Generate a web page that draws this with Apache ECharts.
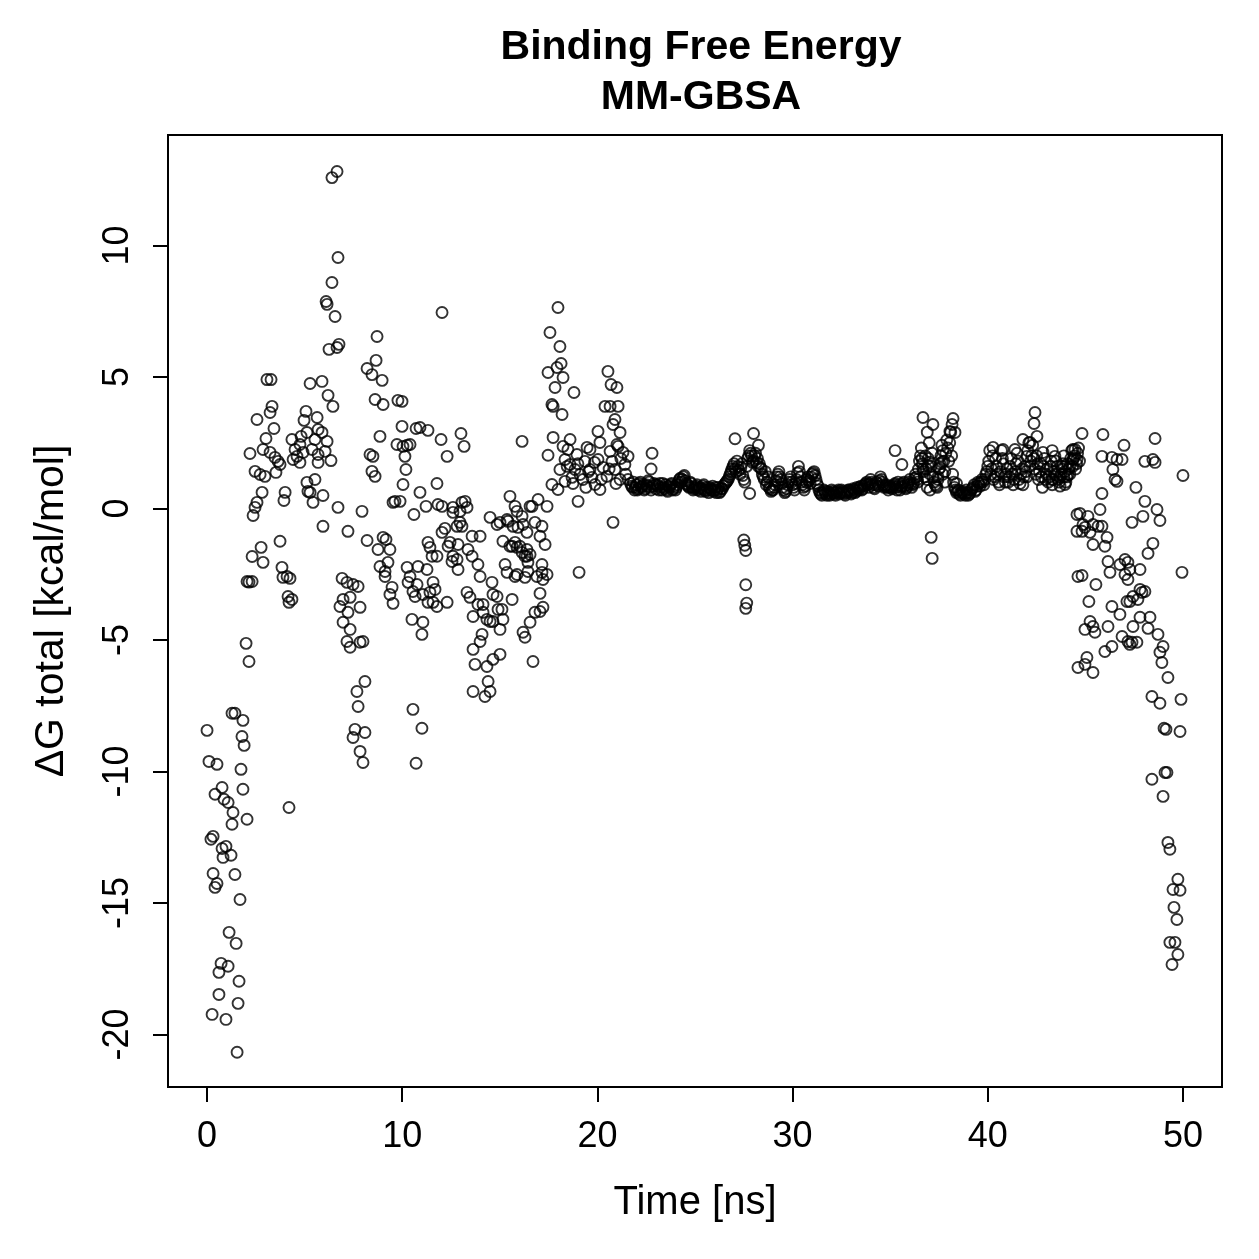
<!DOCTYPE html>
<html>
<head>
    <meta charset="utf-8">
    <title>Binding Free Energy</title>
    <script src="https://cdn.jsdelivr.net/npm/echarts@6/dist/echarts.min.js"></script>
</head>
<body style="margin:0;background:#fff">
    <div id="main" style="width:1259px;height:1259px;"></div>
    <script type="text/javascript">
        // tick positions
        var xTicks = [0, 10, 20, 30, 40, 50];
        var yTicks = [-20, -15, -10, -5, 0, 5, 10];

        // [time ns, dG kcal/mol]
        var phaseStart = [[0.0,-8.44],[0.1,-9.62],[0.51,-9.73],[0.41,-10.87],[0.77,-10.61],[0.87,-11.06],[1.08,-11.18],[1.33,-11.56],[0.2,-12.58],[0.31,-12.47],[0.77,-12.93],[0.97,-12.85],[0.82,-13.27],[1.23,-13.19],[1.28,-12.01],[1.43,-13.92],[0.31,-13.88],[0.51,-14.26],[0.41,-14.41],[1.13,-16.12],[1.49,-16.54],[1.69,-14.87],[0.72,-17.3],[1.08,-17.41],[0.61,-17.64],[1.64,-17.98],[0.61,-18.48],[1.59,-18.82],[0.26,-19.24],[0.97,-19.43],[1.54,-20.68],[1.28,-7.79],[1.43,-7.79],[1.84,-8.06],[1.79,-8.67],[1.9,-9.01],[1.74,-9.92],[1.84,-10.68],[2.05,-11.82],[2.0,-5.13],[2.15,-5.82],
            [2.2,2.09],[2.46,1.41],[2.72,1.29],[2.97,1.22],[2.87,2.24],[3.23,2.13],[3.48,1.94],[3.64,1.79],[3.53,1.37],[3.74,1.67],[2.82,0.61],[2.56,0.23],[2.46,0.04],[2.36,-0.27],[2.77,-1.48],[2.31,-1.83],[2.87,-2.05],[2.05,-2.78],[2.31,-2.78],[2.15,-2.8],[2.56,3.38],[3.02,2.66],[3.43,3.04],[3.23,3.65],[3.33,3.88],[3.07,4.9],[3.28,4.9],[4.0,0.61],[3.94,0.3],[3.84,-2.24],[3.89,-2.62],[4.25,-2.66],[4.1,-2.59],[4.15,-3.35],[4.2,-3.57],[4.35,-3.46],[3.74,-1.25],[4.2,-11.37]];

        var phaseRise = [[4.35,2.62],[4.82,2.74],[5.12,2.89],[4.51,2.24],[4.61,1.98],[4.92,2.13],[4.76,1.75],[4.41,1.86],[5.28,4.75],[5.89,4.83],[5.07,3.69],[4.97,3.35],[5.64,3.46],[5.69,3.0],[5.89,2.89],[6.15,2.55],[5.53,2.62],[5.69,2.05],[5.69,1.75],[6.35,1.82],[6.2,4.3],[6.45,3.88],[5.12,0.99],[5.53,1.1],[5.28,0.61],[5.43,0.23],[5.94,0.49],[5.17,0.65],[6.71,0.04],[5.94,-0.68],[4.76,2.43],[5.38,2.24],[6.05,2.17],
            [6.66,12.81],[6.4,12.58],[6.71,9.54],[6.4,8.59],[6.1,7.87],[6.15,7.76],[6.56,7.3],[6.25,6.05],[6.66,6.12],[6.76,6.24],[8.71,6.54],[8.66,5.63],[8.2,5.32],[8.45,5.09],[8.97,4.87],[8.61,4.14],[9.02,3.95],[9.78,4.11],[8.35,2.05],[8.45,1.41],[8.61,1.22],[8.5,1.98],[8.86,2.74],[7.94,-0.11],[7.22,-0.87],[8.2,-1.22],[9.02,-1.1],[9.17,-1.18],[8.76,-1.56],[9.37,-1.56],[9.27,-2.05],[8.86,-2.21],[9.12,-2.4],[9.12,-2.59],[9.48,-3.0],[9.37,-3.27],[9.53,-3.61],[6.92,-2.66],[7.17,-2.81],[7.48,-2.89],[7.74,-2.97],[6.97,-3.46],[7.33,-3.38],[6.81,-3.73],[7.22,-3.95],[7.84,-3.76],[6.97,-4.33],[7.33,-4.6],[7.17,-5.06],[7.33,-5.28],[7.84,-5.09],[7.99,-5.06],[8.09,-6.58],[7.68,-6.96],[7.74,-7.53],[7.58,-8.4],[8.09,-8.52],[7.48,-8.71],[7.84,-9.24],[7.99,-9.66],[9.63,0.27],[9.53,0.23],[9.73,2.43],[10.04,2.36],[10.25,2.4],[9.99,3.12],[10.71,3.04],[10.19,1.48],[10.04,0.91]];

        var phaseMid = [[9.99,4.07],[10.91,3.08],[11.32,2.97],[10.4,2.43],[10.14,1.98],[11.99,2.62],[12.3,1.98],[13.01,2.85],[13.17,2.36],[12.04,7.45],[11.78,0.95],[10.91,0.61],[9.89,0.27],[11.22,0.08],[10.6,-0.23],[11.83,0.15],[12.04,0.08],[12.6,0.04],[13.06,0.23],[13.22,0.27],[13.32,0.04],[12.96,-0.11],[12.6,-0.15],[10.25,-2.24],[10.81,-2.21],[11.27,-2.32],[10.4,-2.59],[10.3,-2.81],[10.76,-2.89],[10.55,-3.16],[10.66,-3.35],[11.06,-3.27],[11.42,-3.19],[11.32,-3.57],[11.58,-3.57],[11.58,-2.81],[11.32,-1.29],[11.53,-1.82],[11.42,-1.48],[11.78,-1.82],[11.68,-3.08],[11.78,-3.73],[12.3,-3.57],[10.5,-4.22],[11.06,-4.33],[11.01,-4.79],[10.55,-7.64],[11.01,-8.36],[10.71,-9.69],[12.96,-0.53],[13.06,-0.68],[12.81,-0.68],[12.19,-0.76],[12.04,-0.91],[13.58,-1.06],[13.99,-1.06],[12.45,-1.29],[12.86,-1.37],[12.35,-1.44],[12.6,-1.82],[12.55,-2.02],[12.81,-1.94],[12.86,-2.32],[13.37,-1.56],[13.58,-1.82],[13.88,-2.13],[13.99,-2.59],[14.6,-2.81],
            [13.32,-3.19],[13.47,-3.38],[13.88,-3.65],[14.14,-3.65],[14.65,-3.27],[14.86,-3.35],[15.63,-3.46],[13.63,-4.11],[14.14,-3.95],[14.34,-4.22],[14.5,-4.3],[14.65,-4.3],[14.91,-3.84],[15.11,-3.84],[15.16,-4.22],[15.01,-4.6],[14.09,-4.79],[13.99,-5.06],[13.63,-5.36],[13.73,-5.93],[14.34,-6.01],[14.65,-5.74],[15.01,-5.55],[14.4,-6.58],[13.63,-6.96],[14.5,-6.96],[14.24,-7.15],[16.19,-4.71],[16.29,-4.9],[15.27,-2.13],[15.37,-2.43],[15.88,-2.51],[16.29,-2.62],[14.5,-0.34],[14.86,-0.61],[15.37,-0.42],[15.68,-0.68],[15.93,-0.72],[16.19,-0.61],[15.52,0.46],[15.78,0.08],[15.88,-0.11],[16.14,-0.3],[16.55,0.08],[15.16,-1.25],[15.52,-1.44],[15.78,-1.29],[16.03,-1.44],[16.39,-1.56],[16.29,-1.82],[15.78,-2.59],[16.44,-2.4],[16.14,2.55],[16.65,0.08],[16.96,0.34],[17.42,0.08],[16.8,-0.53],[17.16,-0.68],[17.06,-1.06],[15.01,-0.53],[15.42,-0.49],[16.39,-0.91],[15.63,-1.44],[15.88,-1.48],[16.14,-1.67],[16.39,-1.82],[16.55,-1.75],[16.44,-2.05],[17.32,-1.37],[16.9,-2.59],[17.16,-2.43],[17.21,-2.7],[17.42,-2.51],[17.16,-2.13],[17.06,-3.23],[16.8,-3.95],[17.06,-3.92],[17.21,-3.76],[16.55,-4.33],[16.7,-5.82],[19.06,-2.43]];

        var phaseJump = [[17.98,7.64],[17.57,6.69],[18.08,6.16],[18.14,5.51],[17.93,5.36],[17.47,5.17],[18.24,4.98],[17.83,4.6],[18.8,4.41],[17.67,3.95],[17.73,3.88],[18.19,3.57],[17.73,2.7],[18.6,2.62],[17.47,2.02],[18.24,2.36],[18.49,2.24],[19.47,2.32],[20.13,2.51],[21.0,2.43],[21.31,2.13],[21.57,1.98],[17.67,0.91],[17.98,0.72],[19.01,0.27],[20.54,5.21],[20.7,4.71],[21.0,4.6],[20.39,3.88],[20.65,3.88],[21.06,3.88],[20.9,3.38],[20.8,3.19],[21.16,2.89],[20.03,2.93],[19.62,2.24],[21.06,2.36],[20.8,-0.53],[18.34,1.86],[18.6,1.67],[18.85,1.48],[18.7,1.18],[19.11,1.29],[19.36,1.79],[19.26,1.1],[19.62,1.48],[19.88,0.91],[20.03,1.86],[20.29,1.56],[20.49,1.22],[20.75,1.79],[20.9,1.48],[21.16,1.1],[21.41,1.67],[21.57,1.1],[18.08,1.48],[18.34,1.03],[19.72,1.18],[20.13,0.72],[20.65,2.17],[18.95,2.05],[19.41,0.8],[18.45,1.6],[19.0,1.7],[19.55,1.4],[20.2,1.1],[20.6,1.5],[21.2,1.9],[21.45,1.3],[18.75,0.95],[19.85,1.75],[20.95,0.95]];

        var plateau = [[21.7,0.95],[21.8,0.8],[21.9,0.7],[22.0,0.9],[22.1,0.75],[22.2,1.0],[22.3,0.85],[22.4,0.7],[22.5,0.9],[22.6,1.05],[22.7,0.8],[22.8,2.1],[22.75,1.5],[22.9,0.95],[23.0,0.75],[23.1,0.85],[23.2,0.95],[23.3,0.7],[23.4,0.8],[23.5,0.9],[23.6,0.65],[23.7,0.8],[23.8,0.95],[23.9,0.75],
            [24.0,0.7],[24.1,0.9],[24.2,1.1],[24.3,1.0],[24.4,1.2],[24.5,1.05],[24.6,0.9],[24.7,0.8],[24.8,0.95],[24.9,0.7],[25.0,0.8],[25.1,0.9],[25.2,0.75],[25.3,0.65],[25.4,0.85],[25.5,0.7],[25.6,0.8],[25.7,0.6],[25.8,0.75],[25.9,0.85],
            [26.0,0.7],[26.1,0.6],[26.2,0.8],[26.3,0.65],[26.4,0.75],[26.5,0.9],[26.6,1.0],[26.7,1.1],[26.8,1.3],[26.9,1.5],[27.0,1.7],[27.05,2.65],[27.1,1.4],[27.2,1.6],[27.3,1.3],[27.4,1.7],[27.5,1.1],[27.8,0.57],[27.7,1.9],[27.8,2.2],[27.9,2.0],
            [28.0,1.8],[28.0,2.85],[28.1,2.1],[28.2,1.9],[28.25,2.4],[28.3,1.7],[28.4,1.5],[28.5,1.2],[28.6,1.4],[28.7,1.0],[28.8,0.8],[28.9,0.65],[29.0,0.7],[29.1,0.9],[29.2,1.2],[29.3,1.4],[29.4,1.1],[29.5,0.8],[29.6,0.6],[29.7,0.75],[29.8,1.0],[29.9,1.2],
            [27.5,-1.2],[27.55,-1.4],[27.6,-1.6],[27.6,-2.9],[27.65,-3.6],[27.6,-3.8],
            [30.0,0.9],[30.1,0.7],[30.2,1.1],[30.3,1.6],[30.4,1.2],[30.5,0.9],[30.6,0.7],[30.7,1.0],[30.8,1.2],[30.9,0.95],[31.0,1.3],[31.1,1.4],[31.2,1.1],[31.3,0.85],[31.4,0.6],[31.5,0.5],[31.6,0.7],[31.7,0.55],[31.8,0.65],[31.9,0.5],
            [32.0,0.7],[32.1,0.6],[32.2,0.5],[32.3,0.65],[32.4,0.55],[32.5,0.7],[32.6,0.6],[32.7,0.5],[32.8,0.65],[32.9,0.7],[33.0,0.55],[33.1,0.75],[33.2,0.6],[33.3,0.8],[33.4,0.7],[33.5,0.85],[33.6,0.75],[33.7,0.9],[33.8,1.0],[33.9,0.8],
            [34.0,1.1],[34.1,0.9],[34.2,0.75],[34.3,1.0],[34.4,0.85],[34.5,1.2],[34.6,1.0],[34.7,0.8],[34.8,0.9],[34.9,0.7],[35.0,0.85],[35.1,0.75],[35.2,0.9],[35.25,2.2],[35.3,0.8],[35.4,1.0],[35.5,0.7],[35.6,0.85],[35.6,1.67],[35.7,1.0],[35.8,0.75],[35.9,0.9],
            [36.0,1.1],[36.1,0.8],[36.2,0.95],[36.3,1.3],[36.4,1.0],[36.5,1.8],[36.6,2.3],[36.7,1.4],[36.8,2.0],[36.9,1.1],[37.0,2.5],[37.1,1.6],[37.2,1.2],[37.3,0.9],[37.4,0.8],[37.5,1.5],[37.6,2.0],[37.7,2.2],[37.8,1.4],[37.9,2.6],
            [36.68,3.46],[37.19,3.19],[36.9,2.9],[36.63,1.9],[37.04,1.76],[36.68,1.5],[36.94,1.63],[37.65,1.76],[37.55,1.55],[37.7,1.3],[37.45,1.1],[37.8,1.0],[36.4,1.1],[36.9,0.8],[37.04,0.7],[37.1,-1.1],[37.15,-1.9],
            [38.0,1.8],[38.1,2.9],[38.2,1.3],[38.22,3.42],[38.17,3.19],[38.06,2.93],[38.32,2.89],[38.4,0.95],[38.3,0.8],[38.4,0.6],[38.5,0.7],[38.6,0.5],[38.7,0.65],[38.8,0.55],[38.9,0.7],[39.0,0.5],[39.1,0.6],[39.2,0.75],[39.3,0.9],[39.4,0.7],[39.5,1.0],[39.6,0.85],[39.7,1.1],[39.8,0.9],[39.9,1.3],
            [40.0,1.6],[40.1,2.2],[40.2,1.5],[40.27,2.32],[40.3,1.1],[40.4,1.9],[40.5,1.3],[40.6,0.9],[40.7,2.2],[40.78,2.24],[40.8,1.7],[40.9,1.0],[41.0,1.5],[41.1,1.2],[41.2,1.9],[41.3,0.9],[41.39,2.24],[41.4,1.4],[41.5,2.1],[41.6,1.1],[41.7,1.3],[41.8,0.9],[41.8,2.62],[41.9,1.6],
            [42.0,1.2],[42.0,1.98],[42.1,2.5],[42.16,2.51],[42.2,1.8],[42.3,2.4],[42.42,3.65],[42.37,3.23],[42.52,2.74],[42.4,1.5],[42.5,2.0],[42.6,1.1],[42.7,1.7],[42.8,0.8],[42.83,2.13],[42.9,1.9],[43.0,1.3],[43.1,1.0],[43.2,1.6],[43.3,0.9],[43.3,2.2],[43.4,1.4],[43.44,1.98],[43.5,1.8],[43.6,1.1],[43.7,0.85],[43.8,1.5],[43.8,1.6],[43.9,1.2],[43.9,2.0],
            [44.0,1.0],[44.1,1.7],[44.2,1.3],[44.3,2.2],[44.36,2.24],[44.36,1.86],[44.4,1.9],[44.5,1.5],[44.6,2.1],[44.7,1.8],[43.29,1.1],[43.7,1.18],[43.96,0.91],[44.11,1.29]];

        // in-between frames of the plateau (the band is two circles thick)
        var plateauHalf = [[21.75,0.85],[21.85,1.0],[21.95,0.8],
            [22.05,0.7],[22.15,0.95],[22.25,0.8],[22.35,0.9],[22.45,0.75],[22.55,0.85],[22.65,1.0],[22.75,0.7],[22.85,0.85],[22.95,0.9],
            [23.05,0.9],[23.15,0.7],[23.25,0.8],[23.35,0.95],[23.45,0.75],[23.55,0.7],[23.65,0.85],[23.75,0.9],[23.85,0.7],[23.95,0.85],
            [24.05,0.8],[24.15,1.0],[24.25,1.15],[24.35,1.1],[24.45,1.25],[24.55,0.95],[24.65,0.85],[24.75,1.0],[24.85,0.8],[24.95,0.75],
            [25.05,0.85],[25.15,0.7],[25.25,0.8],[25.35,0.75],[25.45,0.9],[25.55,0.65],[25.65,0.7],[25.75,0.8],[25.85,0.7],[25.95,0.65],
            [26.05,0.8],[26.15,0.7],[26.25,0.6],[26.35,0.75],[26.45,0.85],[26.55,0.95],[26.65,1.05],[26.75,1.2],[26.85,1.4],[26.95,1.6],
            [27.05,1.5],[27.15,1.8],[27.25,1.45],[27.35,1.55],[27.45,1.25],[27.55,1.0],[27.65,1.6],[27.75,2.0],[27.85,2.1],[27.95,1.75],
            [28.05,2.0],[28.15,1.75],[28.25,1.6],[28.35,1.55],[28.45,1.3],[28.55,1.1],[28.65,0.9],[28.75,1.2],[28.85,0.75],[28.95,0.7],
            [29.05,0.8],[29.15,1.05],[29.25,1.3],[29.35,1.2],[29.45,0.95],[29.55,0.7],[29.65,0.65],[29.75,0.9],[29.85,1.1],[29.95,1.0],
            [30.05,0.8],[30.15,0.95],[30.25,1.35],[30.35,1.4],[30.45,1.0],[30.55,0.8],[30.65,0.85],[30.75,1.1],[30.85,1.05],[30.95,1.2],
            [31.05,1.35],[31.15,1.25],[31.25,0.95],[31.35,0.7],[31.45,0.55],[31.55,0.6],[31.65,0.65],[31.75,0.5],[31.85,0.6],[31.95,0.55],
            [32.05,0.65],[32.15,0.55],[32.25,0.6],[32.35,0.7],[32.45,0.6],[32.55,0.65],[32.65,0.55],[32.75,0.6],[32.85,0.7],[32.95,0.65],
            [33.05,0.6],[33.15,0.7],[33.25,0.65],[33.35,0.75],[33.45,0.8],[33.55,0.7],[33.65,0.85],[33.75,0.95],[33.85,0.9],[33.95,0.95],
            [34.05,1.0],[34.15,0.8],[34.25,0.9],[34.35,0.95],[34.45,1.05],[34.55,1.1],[34.65,0.9],[34.75,0.85],[34.85,0.8],[34.95,0.8],
            [35.05,0.8],[35.15,0.85],[35.25,0.95],[35.35,0.7],[35.45,0.9],[35.55,0.8],[35.65,0.95],[35.75,0.85],[35.85,0.8],[35.95,1.0],
            [36.05,0.95],[36.15,0.9],[36.25,1.15],[36.35,1.2],[36.45,1.5],[36.55,2.0],[36.65,1.7],[36.75,1.2],[36.85,1.5],[36.95,1.9],
            [37.05,1.3],[37.15,2.1],[37.25,1.0],[37.35,0.85],[37.45,1.2],[37.55,1.7],[37.65,2.4],[37.75,1.8],[37.85,2.1],[37.95,2.3],
            [38.05,2.5],[38.15,2.0],[38.25,1.0],[38.35,0.7],[38.45,0.65],[38.55,0.55],[38.65,0.6],[38.75,0.6],[38.85,0.5],[38.95,0.6],
            [39.05,0.55],[39.15,0.7],[39.25,0.8],[39.35,0.65],[39.45,0.85],[39.55,0.95],[39.65,1.0],[39.75,1.0],[39.85,1.1],[39.95,1.4],
            [40.05,1.8],[40.15,1.3],[40.25,2.0],[40.35,1.2],[40.45,1.6],[40.55,1.0],[40.65,1.4],[40.75,1.9],[40.85,1.2],[40.95,1.3],
            [41.05,1.0],[41.15,1.6],[41.25,1.3],[41.35,1.1],[41.45,1.7],[41.55,1.8],[41.65,0.95],[41.75,1.5],[41.85,1.2],[41.95,1.4],
            [42.05,2.2],[42.15,1.6],[42.25,2.0],[42.35,1.9],[42.45,1.3],[42.55,1.7],[42.65,1.4],[42.75,1.2],[42.85,1.6],[42.95,1.1],
            [43.05,1.5],[43.15,1.2],[43.25,1.8],[43.35,1.1],[43.45,1.3],[43.55,1.6],[43.65,1.0],[43.75,1.3],[43.85,1.7],[43.95,1.4],
            [44.05,1.2],[44.15,1.5],[44.25,1.9],[44.35,1.6],[44.45,2.0],[44.55,1.7],[44.65,2.3]];

        var phaseEnd = [[44.57,-0.23],[44.57,-0.87],[44.62,-2.59],[44.83,2.85],[45.9,2.81],[46.98,2.4],[48.57,2.66],[44.47,2.24],[44.57,1.86],[44.21,1.6],[45.85,1.98],[46.36,1.94],[46.62,1.86],[46.88,1.86],[46.41,1.48],[46.52,1.1],[46.62,1.03],[48.05,1.79],[48.46,1.86],[48.57,1.75],[50.0,1.25],[47.59,0.8],[45.85,0.57],[45.75,-0.04],[48.05,0.27],[48.67,-0.04],[48.82,-0.46],[47.95,-0.3],[47.39,-0.53],
            [44.72,-0.19],[45.13,-0.3],[44.88,-0.61],[44.83,-0.87],[44.98,-0.72],[45.39,-0.61],[45.65,-0.68],[45.85,-0.68],[45.24,-0.91],[45.39,-1.37],[46.11,-1.1],[46.0,-1.44],[48.46,-1.33],[48.21,-1.71],[49.95,-2.43],[46.16,-2.02],[46.26,-2.43],[46.77,-2.13],[47.03,-1.94],[47.18,-2.05],[47.28,-2.32],[47.03,-2.51],[47.18,-2.7],[47.8,-2.32],[44.83,-2.55],[45.54,-2.89],[45.18,-3.54],
            [47.8,-3.08],[48.05,-3.16],[47.44,-3.35],[47.69,-3.46],[47.28,-3.54],[47.13,-3.54],[47.9,-3.19],[46.36,-3.73],[46.77,-4.03],[47.8,-4.14],[48.31,-4.14],[47.44,-4.49],[48.21,-4.56],[48.72,-4.79],[48.98,-5.25],[48.82,-5.47],[48.92,-5.86],[49.23,-6.43],[45.24,-4.3],[44.98,-4.6],[45.39,-4.49],[45.49,-4.71],[46.16,-4.49],[46.88,-4.87],[47.18,-5.06],[47.39,-5.09],[47.64,-5.09],[47.28,-5.17],[46.0,-5.44],[46.36,-5.25],[45.08,-5.67],[44.62,-6.05],[44.98,-5.93],[45.39,-6.24],
            [48.41,-7.15],[48.82,-7.41],[49.9,-7.26],[49.03,-8.36],[49.13,-8.4],[49.85,-8.48],[49.08,-10.04],[49.18,-10.04],[48.41,-10.3],[48.98,-10.95],[49.23,-12.7],[49.33,-12.96],[49.74,-14.1],[49.49,-14.49],[49.85,-14.52],[49.54,-15.17],[49.69,-15.63],[49.33,-16.5],[49.59,-16.5],[49.74,-16.96],[49.44,-17.34]];

        var allPoints = phaseStart.concat(phaseRise, phaseMid, phaseJump, plateau, plateauHalf, phaseEnd);

        var font = 'Liberation Sans, Arial, Helvetica, sans-serif';
        var myChart = echarts.init(document.getElementById('main'));
        var option = {
            animation: false,
            backgroundColor: '#fff',
            title: {
                text: 'Binding Free Energy\nMM-GBSA',
                left: 696,
                top: 18,
                textAlign: 'center',
                textStyle: {
                    fontFamily: font,
                    fontSize: 41,
                    fontWeight: 'bold',
                    lineHeight: 50,
                    color: '#000'
                }
            },
            grid: {
                left: 168,
                top: 135,
                width: 1054,
                height: 952,
                show: true,
                borderColor: '#000',
                borderWidth: 2,
                containLabel: false
            },
            xAxis: {
                type: 'value',
                min: -2,
                max: 52,
                name: 'Time [ns]',
                nameLocation: 'middle',
                nameGap: 96,
                nameTextStyle: { fontFamily: font, fontSize: 40, color: '#000' },
                axisLine: { show: false, onZero: false },
                splitLine: { show: false },
                axisTick: {
                    customValues: xTicks,
                    length: 15,
                    lineStyle: { color: '#000', width: 2 }
                },
                axisLabel: {
                    customValues: xTicks,
                    fontFamily: font,
                    fontSize: 36,
                    color: '#000',
                    margin: 32
                }
            },
            yAxis: {
                type: 'value',
                min: -22,
                max: 14.2,
                name: 'ΔG total [kcal/mol]',
                nameLocation: 'middle',
                nameGap: 96,
                nameTextStyle: { fontFamily: font, fontSize: 41, color: '#000' },
                axisLine: { show: false, onZero: false },
                splitLine: { show: false },
                axisTick: {
                    customValues: yTicks,
                    length: 15,
                    lineStyle: { color: '#000', width: 2 }
                },
                axisLabel: {
                    customValues: yTicks,
                    rotate: 90,
                    fontFamily: font,
                    fontSize: 36,
                    color: '#000',
                    margin: 32
                }
            },
            series: [{
                type: 'scatter',
                data: allPoints,
                symbol: 'circle',
                symbolSize: 11,
                clip: false,
                silent: true,
                itemStyle: {
                    color: 'rgba(0,0,0,0)',
                    borderColor: '#000',
                    borderWidth: 1.9
                }
            }]
        };
        myChart.setOption(option);
    </script>
</body>
</html>
